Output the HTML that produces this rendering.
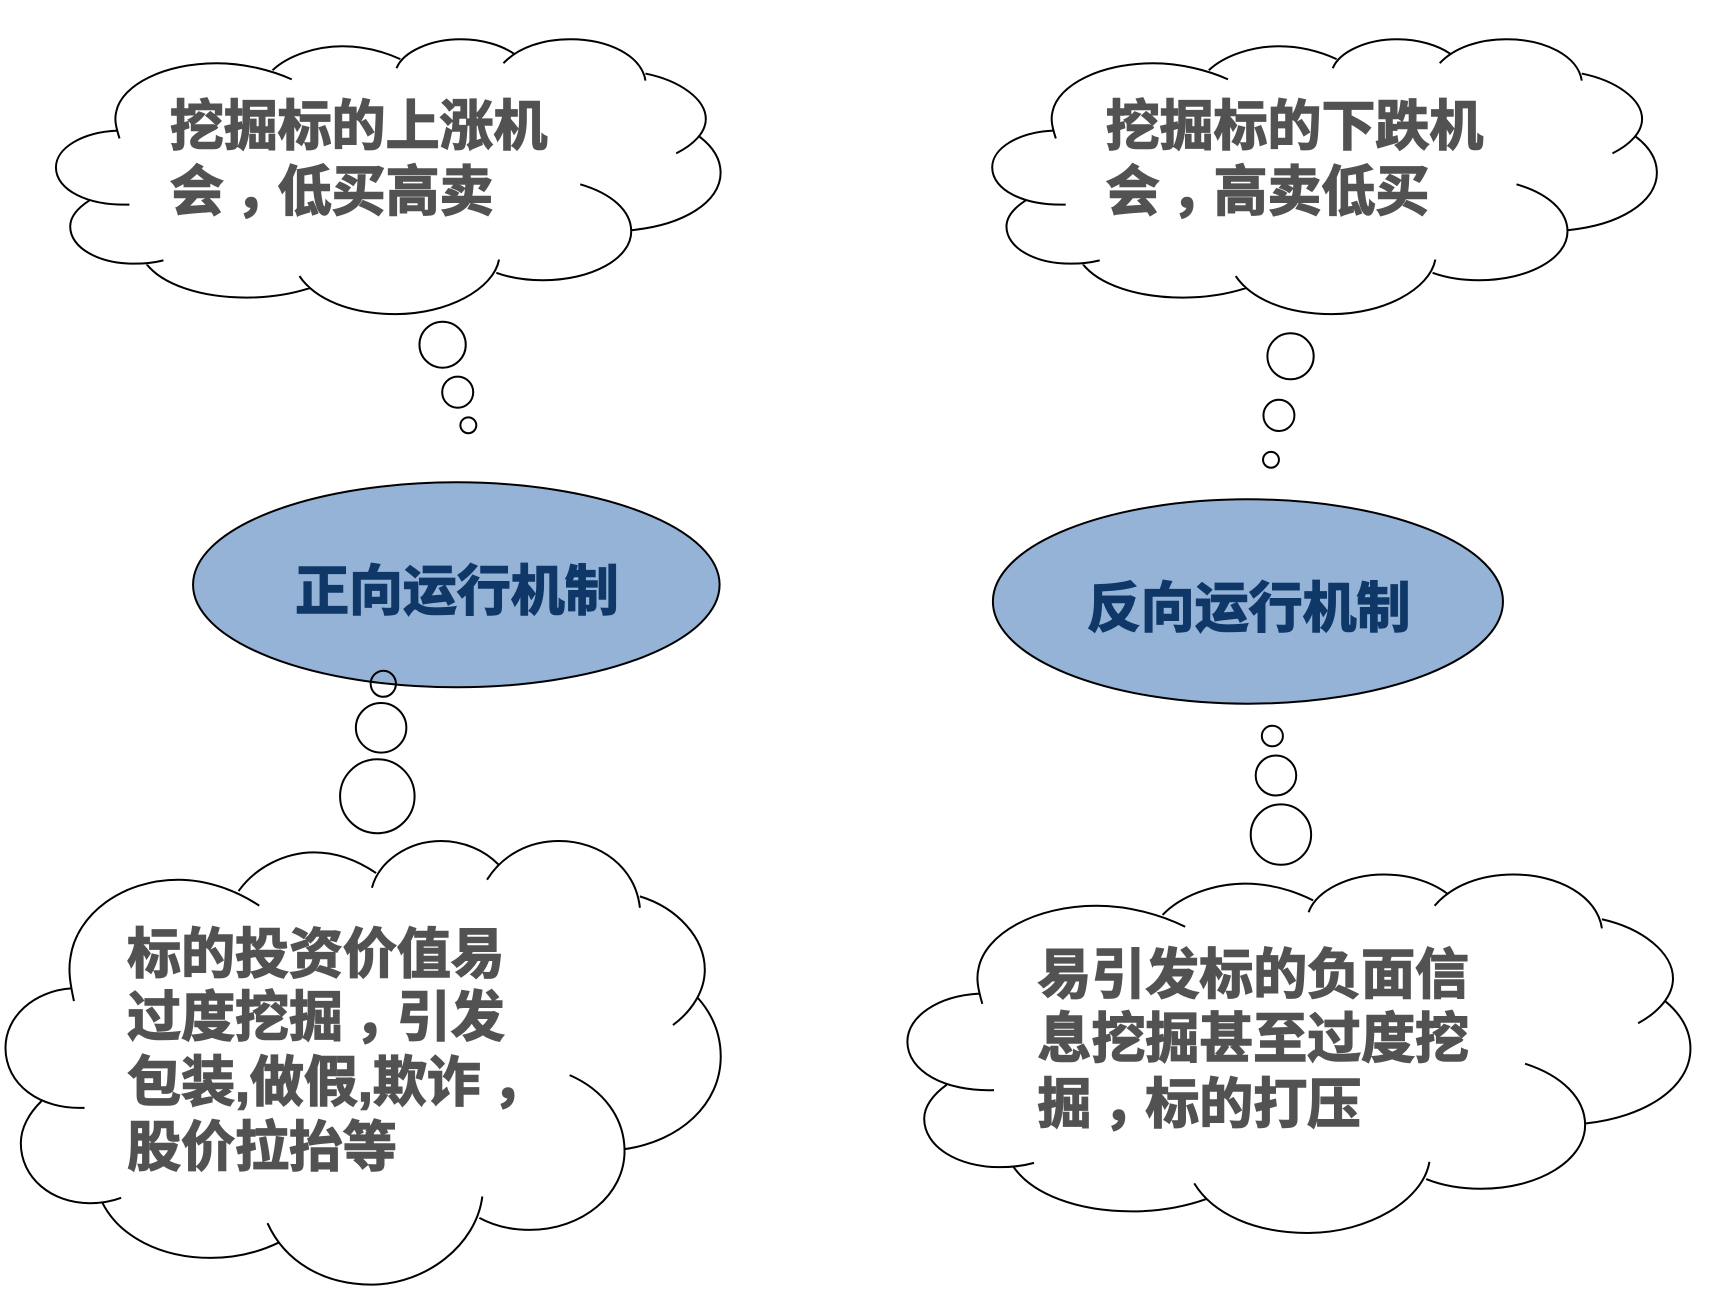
<!DOCTYPE html>
<html><head><meta charset="utf-8"><style>
html,body{margin:0;padding:0;background:#fff}
svg{display:block}
text{font-family:"Liberation Sans","Noto Sans CJK SC",sans-serif;font-weight:700;font-size:54.3px;stroke-width:1.5px}
.g{fill:#525252;stroke:#525252}
.b{fill:#0f3868;stroke:#0f3868}
.l{fill:none;stroke:#000;stroke-width:2px;vector-effect:non-scaling-stroke}
ellipse{fill:none;stroke:#000;stroke-width:2px;vector-effect:non-scaling-stroke}
</style></head><body>
<svg width="1722" height="1296" viewBox="0 0 1722 1296" xmlns="http://www.w3.org/2000/svg">
<rect width="1722" height="1296" fill="#fff"/>
<defs>
<path id="c" class="l" d="M218,335 C212,310 208,290 212,270 C222,205 300,153 395,153 C445,153 495,170 532,192 M497,170 C525,135 575,112 625,112 C665,112 700,125 730,143 M723,165 C735,125 785,95 840,95 C880,95 915,110 937,130 M918,153 C945,115 990,95 1040,95 C1110,95 1170,135 1177,195 M1177,178 C1240,195 1287,240 1287,288 C1287,320 1265,350 1233,371 M1275,330 C1300,355 1314,385 1314,418 C1314,490 1245,545 1151,557 M1058,446 C1115,468 1151,510 1151,560 C1151,625 1080,678 990,678 C960,678 930,672 905,660 M910,628 C900,700 815,760 722,760 C640,760 575,725 546,668 M565,697 C530,712 490,720 450,720 C365,720 295,688 266,637 M298,630 C280,636 262,638 245,638 C180,638 128,600 128,548 C128,525 142,503 163,485 M236,495 C160,498 102,460 102,405 C102,358 150,320 213,316"/>
</defs>
<g transform="scale(.9935 1)">
<use href="#c" transform="matrix(.552 0 0 .4133 0 0)"/>
<use href="#c" transform="matrix(.594 0 0 .667 -55.07 777.65)"/>

<ellipse cx="459.3" cy="584.8" rx="265" ry="102.5" style="fill:#95b3d7"/>

<ellipse cx="445.5" cy="344.7" rx="23.3" ry="23"/>
<ellipse cx="460.7" cy="392.2" rx="15.6" ry="15.6"/>
<ellipse cx="471.4" cy="425.3" rx="8" ry="7.9"/>

<ellipse cx="385.8" cy="683.8" rx="12.7" ry="13"/>
<ellipse cx="383.6" cy="727.8" rx="25.4" ry="24.8"/>
<ellipse cx="379.8" cy="796.2" rx="37.5" ry="37"/>

<g transform="translate(6 0)">
<use href="#c" transform="matrix(.552 0 0 .4133 936.4 0)"/>
<use href="#c" transform="matrix(.6503 0 0 .539 841 823.3)"/>
<ellipse cx="1250.1" cy="601.5" rx="256.7" ry="102.2" style="fill:#95b3d7"/>
<ellipse cx="1293" cy="356.3" rx="23.3" ry="23"/>
<ellipse cx="1281.3" cy="415.4" rx="15.6" ry="15.6"/>
<ellipse cx="1273.3" cy="459.8" rx="8" ry="7.9"/>
<ellipse cx="1274.7" cy="736" rx="10.6" ry="10.3"/>
<ellipse cx="1278.3" cy="775.5" rx="20.4" ry="20"/>
<ellipse cx="1283.3" cy="834.6" rx="30.4" ry="30.2"/>
</g>

<text class="g" x="171" y="145">挖掘标的上涨机</text>
<text class="g" x="171" y="210.5">会<tspan dx="12">，</tspan><tspan dx="-12">低买高卖</tspan></text>

<text class="g" x="1113" y="145">挖掘标的下跌机</text>
<text class="g" x="1113" y="210.5">会<tspan dx="12">，</tspan><tspan dx="-12">高卖低买</tspan></text>

<text class="b" x="297" y="610">正向运行机制</text>
<text class="b" x="1094" y="627">反向运行机制</text>

<text class="g" x="128" y="973">标的投资价值易</text>
<text class="g" x="128" y="1036">过度挖掘<tspan dx="12">，</tspan><tspan dx="-12">引发</tspan></text>
<text class="g" x="128" y="1101">包装,做假,欺诈<tspan dx="12">，</tspan></text>
<text class="g" x="128" y="1166">股价拉抬等</text>

<text class="g" x="1044.3" y="993.5">易引发标的负面信</text>
<text class="g" x="1044.3" y="1057.5">息挖掘甚至过度挖</text>
<text class="g" x="1044.3" y="1123">掘<tspan dx="12">，</tspan><tspan dx="-12">标的打压</tspan></text>
</g>
</svg>
</body></html>
